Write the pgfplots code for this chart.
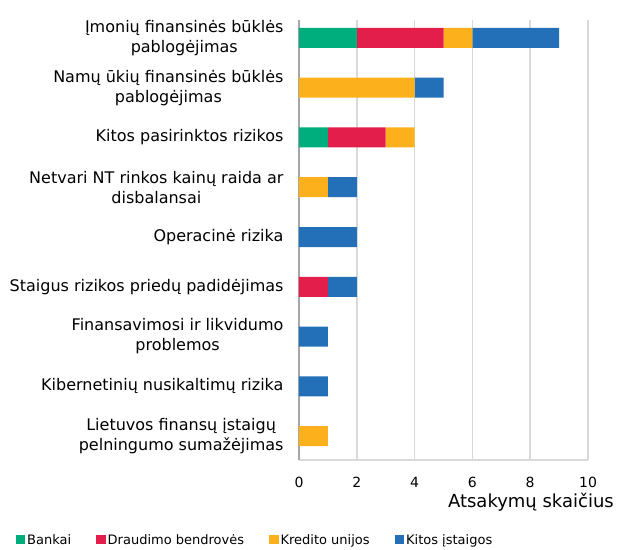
\documentclass[border=0pt]{standalone}
\usepackage{pgfplots}
\pgfplotsset{compat=1.18}
\usepackage{fontspec}
\setmainfont{DejaVu Sans}
\definecolor{cBank}{RGB}{0,174,125}
\definecolor{cDraud}{RGB}{227,30,74}
\definecolor{cKred}{RGB}{252,176,27}
\definecolor{cKit}{RGB}{36,112,184}
\definecolor{gridc}{RGB}{217,217,217}
\definecolor{axc}{RGB}{166,166,166}
\begin{document}
\begin{tikzpicture}
\useasboundingbox (-299pt,-89pt) rectangle (318pt,460pt);
\begin{axis}[
  at={(0pt,0pt)}, anchor=south west,
  scale only axis, width=289pt, height=440pt,
  xmin=0, xmax=10, ymin=-0.36, ymax=8.48, y dir=reverse,
  xbar stacked, bar width=20pt,
  xtick={0,2,4,6,8,10},
  ytick={0,1,2,3,4,5,6,7,8},
  yticklabels={{Įmonių finansinės būklės\\pablogėjimas},{Namų ūkių finansinės būklės\\pablogėjimas},{Kitos pasirinktos rizikos},{Netvari NT rinkos kainų raida ar\\disbalansai},{Operacinė rizika},{Staigus rizikos priedų padidėjimas},{Finansavimosi ir likvidumo\\problemos},{Kibernetinių nusikaltimų rizika},{Lietuvos finansų įstaigų\\pelningumo sumažėjimas}},
  yticklabel style={align=center, font=\fontsize{16}{20}\selectfont, xshift=-12pt},
  xticklabel style={font=\fontsize{14}{16}\selectfont, yshift=-14pt},
  /pgf/number format/assume math mode=true,
  major tick length=0pt,
  axis x line*=bottom, axis y line*=left,
  x axis line style={draw=gridc, line width=1.5pt},
  y axis line style={draw=axc, line width=1.2pt},
  xmajorgrids, grid style={draw=gridc, line width=1.5pt},
  xlabel={Atsakymų skaičius},
  xlabel style={font=\fontsize{18}{20}\selectfont, inner sep=0pt, at={(axis description cs:1.090,-0.095)}, anchor=east},
  legend columns=4,
  legend style={at={(axis description cs:-0.154,-0.182)}, anchor=center, draw=none, font=\fontsize{13}{15}\selectfont, nodes={inner xsep=1pt}, /tikz/every even column/.append style={column sep=24pt}, /tikz/every odd column/.append style={column sep=1pt}},
  legend image code/.code={\fill[#1] (0pt,-4pt) rectangle (9.5pt,5.5pt);},
]
\addplot[fill=cBank, draw=none] coordinates {(2,0) (0,1) (1,2) (0,3) (0,4) (0,5) (0,6) (0,7) (0,8)};
\addplot[fill=cDraud, draw=none] coordinates {(3,0) (0,1) (2,2) (0,3) (0,4) (1,5) (0,6) (0,7) (0,8)};
\addplot[fill=cKred, draw=none] coordinates {(1,0) (4,1) (1,2) (1,3) (0,4) (0,5) (0,6) (0,7) (1,8)};
\addplot[fill=cKit, draw=none] coordinates {(3,0) (1,1) (0,2) (1,3) (2,4) (1,5) (1,6) (1,7) (0,8)};
\legend{Bankai, Draudimo bendrovės, Kredito unijos, Kitos įstaigos}
\end{axis}
\end{tikzpicture}
\end{document}
